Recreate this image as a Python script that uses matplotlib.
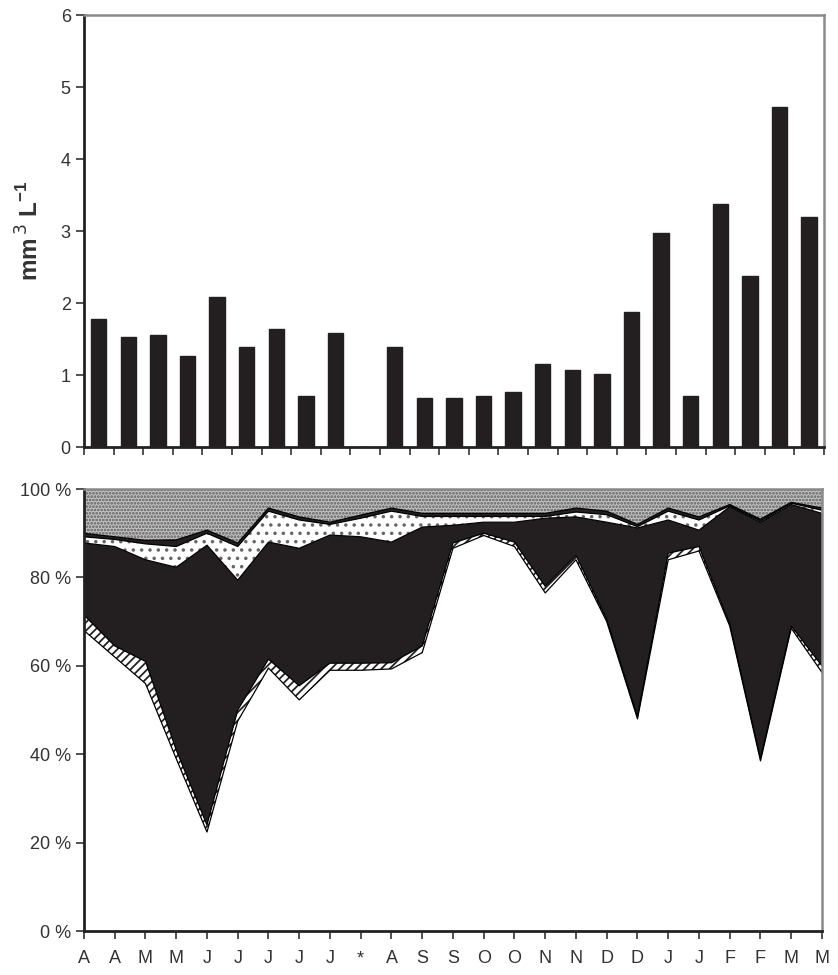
import numpy as np
import matplotlib.pyplot as plt

plt.rcParams['font.family'] = ['Liberation Sans', 'DejaVu Sans']
plt.rcParams['hatch.linewidth'] = 1.3

# x axis labels (sampling months)
months = ['A', 'A', 'M', 'M', 'J', 'J', 'J', 'J', 'J', '*', 'A', 'S', 'S',
          'O', 'O', 'N', 'N', 'D', 'D', 'J', 'J', 'F', 'F', 'M', 'M']

# total biovolume, mm3 L-1 (no sample at '*')
biovolume = [1.78, 1.53, 1.56, 1.27, 2.09, 1.39, 1.64, 0.71, 1.59, 0.0,
             1.39, 0.68, 0.68, 0.71, 0.76, 1.16, 1.07, 1.01, 1.87, 2.97,
             0.71, 3.37, 2.38, 4.73, 3.20]

# relative composition (%), bottom to top
grp_white = [68, 62, 56, 39, 22.4, 47.5, 59.5, 52.3, 59, 59, 59.3, 63, 86.6,
             89.5, 87, 76.5, 84, 70, 48, 84, 86, 69, 38.5, 68.5, 58.5]
grp_hatch = [3.5, 2.5, 5, 2, 1.6, 2.5, 2, 3.2, 1.6, 1.6, 1.4, 1.5, 1.2,
             0.5, 1, 1.5, 1, 0.5, 0.5, 1.5, 1, 0.5, 0.5, 0.5, 1.5]
grp_black = [16.3, 22.5, 23, 41.3, 63.3, 29.4, 26.5, 31.1, 29, 28.6, 27.3,
             26.9, 4, 2.5, 4.5, 15.4, 8.7, 22, 42.7, 7.5, 3.7, 26.5, 53.5,
             27.5, 34.5]
grp_dots = [1.4, 1.6, 3.6, 4.7, 2.7, 7.6, 7, 6.4, 2.4, 4.2, 7, 2.4, 2, 1.3,
            1.3, 0.4, 1.1, 1.7, 0.3, 2, 2.3, 0.2, 0.3, 0.3, 0.7]
grp_thin = [0.8, 0.6, 0.8, 1.5, 0.7, 0.8, 0.7, 0.7, 0.5, 0.7, 0.7, 0.7, 0.7,
            0.7, 0.7, 0.7, 0.9, 0.8, 0.5, 0.7, 0.7, 0.3, 0.4, 0.2, 0.5]
grp_grey = [10, 10.8, 11.6, 11.5, 9.3, 12.2, 4.3, 6.3, 7.5, 5.9, 4.3, 5.5,
            5.5, 5.5, 5.5, 5.5, 4.3, 5, 8, 4.3, 6.3, 3.5, 6.8, 3, 4.3]

fig = plt.figure(figsize=(8.38, 9.75), dpi=100)
ax1 = fig.add_axes([0.1002, 0.5415, 0.883, 0.443])
ax2 = fig.add_axes([0.1002, 0.0451, 0.8807, 0.4533])

txt = '#333333'

# ---- top panel: bars
x = np.arange(len(months))
ax1.bar(x, biovolume, width=0.52, color='#231f20', edgecolor='#231f20')
ax1.set_xlim(-0.5, len(months) - 0.5)
ax1.set_ylim(0, 6)
ax1.set_yticks(range(7))
ax1.set_xticks(np.arange(-0.5, len(months), 1.0))
ax1.set_xticklabels([])
ax1.tick_params(axis='both', direction='out', length=6, width=1.2,
                labelsize=13, labelcolor=txt, color='#333333')
ax1.set_ylabel('mm$^{\\,3}$ L$^{\\mathregular{-1}}$', fontsize=17.5,
               fontweight='bold', color=txt, labelpad=12)

# ---- bottom panel: stacked percentages
layers = [grp_white, grp_hatch, grp_black, grp_dots, grp_thin, grp_grey]
tops = np.cumsum(np.array(layers, dtype=float), axis=0)
bottoms = np.vstack([np.zeros(len(months)), tops[:-1]])

styles = [
    ('white', None, 'black'),
    ('white', '////', '#222222'),
    ('#231f20', None, '#231f20'),
    ('white', '..', '#666666'),
    ('#231f20', None, '#231f20'),
    ('#c2c2c2', '.....', '#5a5a5a'),
]
for (fc, hatch, hc), lo, hi in zip(styles, bottoms, tops):
    ax2.fill_between(x, lo, hi, facecolor=fc, edgecolor='none', linewidth=0)
    if hatch:
        ax2.fill_between(x, lo, hi, facecolor='none', edgecolor=hc,
                         hatch=hatch, linewidth=0)
for hi in tops[:-1]:
    ax2.plot(x, hi, color='black', linewidth=0.9)

ax2.set_xlim(0, len(months) - 1)
ax2.set_ylim(0, 100)
ax2.set_yticks(range(0, 101, 20))
ax2.set_yticklabels([f'{v} %' for v in range(0, 101, 20)])
ax2.set_xticks(x)
ax2.set_xticklabels(months)
ax2.tick_params(axis='both', direction='out', length=6, width=1.2,
                labelsize=13, labelcolor=txt, color='#333333')
ax2.tick_params(axis='x', pad=8)

for ax in (ax1, ax2):
    ax.spines['left'].set_color('#222222')
    ax.spines['bottom'].set_color('#222222')
    ax.spines['left'].set_linewidth(2)
    ax.spines['bottom'].set_linewidth(2)
    ax.spines['top'].set_color('#8a8a8a')
    ax.spines['right'].set_color('#8a8a8a')
    ax.spines['top'].set_linewidth(1.8)
    ax.spines['right'].set_linewidth(1.8)

fig.savefig('out.png', dpi=100)
